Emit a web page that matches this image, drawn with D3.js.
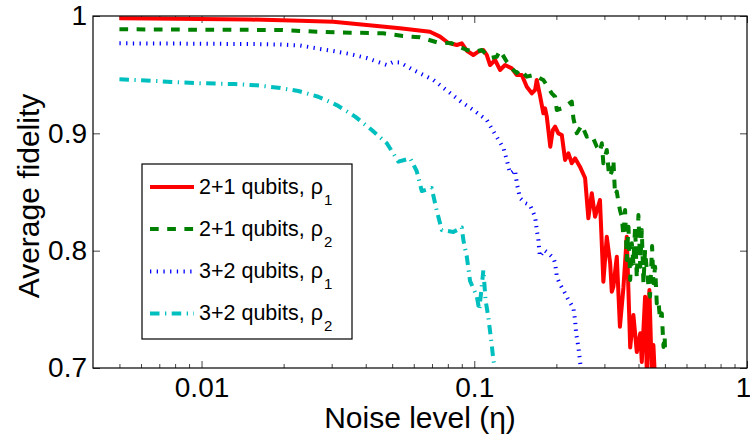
<!DOCTYPE html>
<html>
<head>
<meta charset="utf-8">
<script src="https://cdn.jsdelivr.net/npm/d3@7/dist/d3.min.js"></script>
<style>
  html, body { margin: 0; padding: 0; background: #fff; }
  svg { display: block; font-family: "Liberation Sans", Arial, Helvetica, sans-serif; }
</style>
</head>
<body>
<svg id="chart" width="750" height="436"></svg>
<script>
// Average fidelity versus noise level for the four protocol variants

const xTickValues = [0.01, 0.1, 1];
const xTickLabels = ["0.01", "0.1", "1"];
const yTickValues = [0.7, 0.8, 0.9, 1];
const yTickLabels = ["0.7", "0.8", "0.9", "1"];

const seriesNames = ["2+1 qubits, ρ", "2+1 qubits, ρ", "3+2 qubits, ρ", "3+2 qubits, ρ"];
const seriesSubs = ["1", "2", "1", "2"];

// 2+1 qubits, rho_1
const etaA = [0.005,0.0065,0.0099,0.0151,0.023,0.0304,0.0403,0.0534,0.0688,0.0749,0.0802,0.0863,0.0900,0.0939,0.0992,0.1035,0.108,0.1111,0.1143,0.1192,0.1243,0.1297,0.1373,0.1432,0.1494,0.1558,0.1625,0.1671,0.1695,0.174,0.1792,0.1818,0.1845,0.190,0.1941,0.1979,0.2034,0.2094,0.2153,0.2214,0.2278,0.2342,0.244,0.2549,0.262,0.2697,0.2773,0.289,0.2974,0.3061,0.315,0.3193,0.3237,0.3331,0.342,0.3522,0.3624,0.373,0.3832,0.3944,0.406,0.4114,0.423,0.4292,0.4387,0.4477,0.4538,0.46];
const fidA = [0.998,0.9979,0.9974,0.997,0.996,0.9951,0.9923,0.9895,0.9866,0.9824,0.9772,0.9753,0.9767,0.9704,0.9668,0.9696,0.971,0.9668,0.9582,0.9625,0.954,0.9582,0.9554,0.9497,0.9497,0.9397,0.9341,0.9369,0.9455,0.9327,0.9171,0.9213,0.9142,0.8886,0.9028,0.9057,0.9,0.8986,0.8773,0.883,0.8745,0.8787,0.8716,0.8619,0.8276,0.8489,0.8289,0.8432,0.7735,0.8119,0.7892,0.765,0.7693,0.7949,0.7352,0.7682,0.8119,0.7175,0.7452,0.7136,0.7296,0.7051,0.7608,0.695,0.7665,0.695,0.7196,0.69];

// 2+1 qubits, rho_2
const etaB = [0.005,0.0099,0.0194,0.0265,0.035,0.0463,0.0548,0.0633,0.0729,0.0827,0.0939,0.1007,0.1065,0.1143,0.1209,0.1243,0.1316,0.1391,0.1432,0.147,0.1558,0.1647,0.1792,0.1924,0.1979,0.2007,0.2094,0.2184,0.2278,0.2309,0.2376,0.2479,0.2586,0.2697,0.2814,0.289,0.2935,0.2974,0.3061,0.3122,0.3193,0.3237,0.3283,0.3331,0.3376,0.342,0.3474,0.3522,0.3573,0.3624,0.3677,0.373,0.3781,0.3832,0.3888,0.3944,0.3998,0.406,0.4114,0.4171,0.423,0.4292,0.435,0.441,0.4487,0.4538,0.4603,0.4669,0.4732,0.480,0.4871,0.4941,0.4991,0.501];
const fidB = [0.9887,0.9883,0.9881,0.9866,0.9858,0.9853,0.983,0.9818,0.9776,0.9767,0.971,0.9696,0.971,0.9642,0.9653,0.9706,0.961,0.954,0.9514,0.9546,0.9483,0.9497,0.9455,0.9341,0.9312,0.9199,0.9213,0.9241,0.927,0.9128,0.9,0.9071,0.8971,0.8986,0.8886,0.8843,0.8915,0.8745,0.8858,0.863,0.8673,0.8773,0.8474,0.8503,0.8417,0.8347,0.8289,0.8125,0.8347,0.792,0.8204,0.775,0.8063,0.7892,0.8204,0.7764,0.8304,0.7863,0.8176,0.7722,0.8006,0.7835,0.7707,0.7608,0.804,0.7722,0.7863,0.7551,0.758,0.7409,0.7466,0.7179,0.7273,0.7111];

// 3+2 qubits, rho_1
const etaC = [0.005,0.0099,0.0151,0.0194,0.023,0.0272,0.0304,0.035,0.0403,0.0478,0.0504,0.0534,0.0598,0.0708,0.0815,0.0887,0.0992,0.1111,0.1209,0.1279,0.1316,0.1353,0.1411,0.1432,0.147,0.1536,0.160,0.1671,0.1695,0.1718,0.174,0.1803,0.187,0.195,0.1979,0.2007,0.206,0.2153,0.2214,0.2309,0.2342,0.2362,0.2408,0.244,0.2465];
const fidC = [0.9767,0.9764,0.9761,0.9757,0.9749,0.9719,0.9702,0.9676,0.9642,0.9582,0.9608,0.9604,0.954,0.9455,0.9344,0.9276,0.9199,0.9114,0.8969,0.8875,0.8773,0.8659,0.8687,0.8574,0.8449,0.8406,0.8389,0.8289,0.8176,0.8091,0.7949,0.8006,0.7978,0.7937,0.7895,0.7778,0.7716,0.7637,0.758,0.7511,0.7409,0.7298,0.7182,0.7068,0.6966];

// 3+2 qubits, rho_2
const etaD = [0.005,0.0065,0.00777,0.0099,0.01327,0.01594,0.0191,0.02265,0.0268,0.0313,0.0366,0.0421,0.0478,0.0527,0.0582,0.0615,0.0642,0.0698,0.0729,0.076,0.0838,0.09,0.0912,0.0939,0.0965,0.1021,0.1043,0.106,0.108,0.110,0.1127,0.1159,0.1175,0.1192,0.121];
const fidD = [0.946,0.9449,0.9438,0.9427,0.942,0.9409,0.9389,0.9361,0.9312,0.9241,0.9142,0.9028,0.8915,0.8759,0.8787,0.8679,0.8508,0.8534,0.8338,0.8176,0.8159,0.8197,0.8091,0.7949,0.7741,0.7614,0.7494,0.7648,0.7835,0.758,0.7426,0.7196,0.7068,0.6983,0.685];

const styles = [
  { color: "#ff0000", width: 4, dash: null },
  { color: "#008000", width: 4, dash: "8.7,8.5" },
  { color: "#0000ff", width: 4, dash: "1.3,5.4" },
  { color: "#00bfbf", width: 4, dash: "9.5,5.5,1.3,5.4" }
];

const series = [
  { eta: etaA, fid: fidA },
  { eta: etaB, fid: fidB },
  { eta: etaC, fid: fidC },
  { eta: etaD, fid: fidD }
];

const plot = { left: 93, right: 747, top: 16, bottom: 368 };

const x = d3.scaleLog().domain([0.004, 1]).range([plot.left, plot.right]);
const y = d3.scaleLinear().domain([0.7, 1]).range([plot.bottom, plot.top]);

const svg = d3.select("#chart");

svg.append("defs").append("clipPath").attr("id", "plotClip")
  .append("rect")
  .attr("x", plot.left).attr("y", plot.top)
  .attr("width", plot.right - plot.left).attr("height", plot.bottom - plot.top);

// minor ticks on the log axis
const minorX = [];
[0.001, 0.01, 0.1].forEach(dec => {
  for (let k = 2; k <= 9; k++) {
    const v = dec * k;
    if (v > 0.004 && v < 1) minorX.push(v);
  }
});

const tickColor = "#444";
const tickFont = 28;

function styleAxis(g) {
  g.select(".domain").remove();
  g.selectAll(".tick line").attr("stroke", tickColor);
  g.selectAll(".tick text").attr("fill", "#000").style("font-size", tickFont + "px");
}

// bottom axis, labelled
const bottomAxis = svg.append("g")
  .attr("transform", `translate(0,${plot.bottom})`)
  .call(d3.axisBottom(x).tickValues(xTickValues).tickSize(-7).tickPadding(9)
    .tickFormat((d, i) => xTickLabels[i]))
  .call(styleAxis);
// keep the last label inside the canvas
bottomAxis.selectAll(".tick text").filter(d => d === 1).attr("dx", -4);

svg.append("g")
  .attr("transform", `translate(0,${plot.bottom})`)
  .call(d3.axisBottom(x).tickValues(minorX).tickSize(-4).tickFormat(""))
  .call(styleAxis);
// top axis, ticks only
svg.append("g")
  .attr("transform", `translate(0,${plot.top})`)
  .call(d3.axisTop(x).tickValues(xTickValues).tickSize(-7).tickFormat(""))
  .call(styleAxis);
svg.append("g")
  .attr("transform", `translate(0,${plot.top})`)
  .call(d3.axisTop(x).tickValues(minorX).tickSize(-4).tickFormat(""))
  .call(styleAxis);
// left axis, labelled
svg.append("g")
  .attr("transform", `translate(${plot.left},0)`)
  .call(d3.axisLeft(y).tickValues(yTickValues).tickSize(-7).tickPadding(6)
    .tickFormat((d, i) => yTickLabels[i]))
  .call(styleAxis);
// right axis, ticks only
svg.append("g")
  .attr("transform", `translate(${plot.right},0)`)
  .call(d3.axisRight(y).tickValues(yTickValues).tickSize(-7).tickFormat(""))
  .call(styleAxis);

// curves
const line = d3.line().x(d => x(d[0])).y(d => y(d[1]));
const curves = svg.append("g").attr("clip-path", "url(#plotClip)");
series.forEach((s, i) => {
  const pts = s.eta.map((e, j) => [e, s.fid[j]]);
  const st = styles[i];
  curves.append("path")
    .datum(pts)
    .attr("d", line)
    .attr("fill", "none")
    .attr("stroke", st.color)
    .attr("stroke-width", st.width)
    .attr("stroke-linejoin", "round")
    .attr("stroke-dasharray", st.dash);
});

// frame
svg.append("rect")
  .attr("x", plot.left).attr("y", plot.top)
  .attr("width", plot.right - plot.left).attr("height", plot.bottom - plot.top)
  .attr("fill", "none").attr("stroke", "#000").attr("stroke-width", 1.2);

// axis titles
svg.append("text")
  .attr("x", (plot.left + plot.right) / 2).attr("y", 428)
  .attr("text-anchor", "middle").style("font-size", "30px")
  .text("Noise level (η)");
svg.append("text")
  .attr("transform", `translate(39,${(plot.top + plot.bottom) / 2 + 4}) rotate(-90)`)
  .attr("text-anchor", "middle").style("font-size", "30px")
  .text("Average fidelity");

// legend
const legend = svg.append("g");
legend.append("rect")
  .attr("x", 142).attr("y", 164).attr("width", 210).attr("height", 175)
  .attr("fill", "#fff").attr("stroke", "#000").attr("stroke-width", 1.2);
const rowBase = [193.5, 235.5, 278, 320];
seriesNames.forEach((name, i) => {
  const st = styles[i];
  legend.append("line")
    .attr("x1", 150).attr("x2", 194)
    .attr("y1", rowBase[i] - 6.5).attr("y2", rowBase[i] - 6.5)
    .attr("stroke", st.color).attr("stroke-width", st.width)
    .attr("stroke-dasharray", st.dash);
  const t = legend.append("text")
    .attr("x", 199).attr("y", rowBase[i])
    .style("font-size", "21.5px");
  t.append("tspan").text(name);
  t.append("tspan").attr("dx", 1).attr("dy", 11).style("font-size", "15px").text(seriesSubs[i]);
});
</script>
</body>
</html>
